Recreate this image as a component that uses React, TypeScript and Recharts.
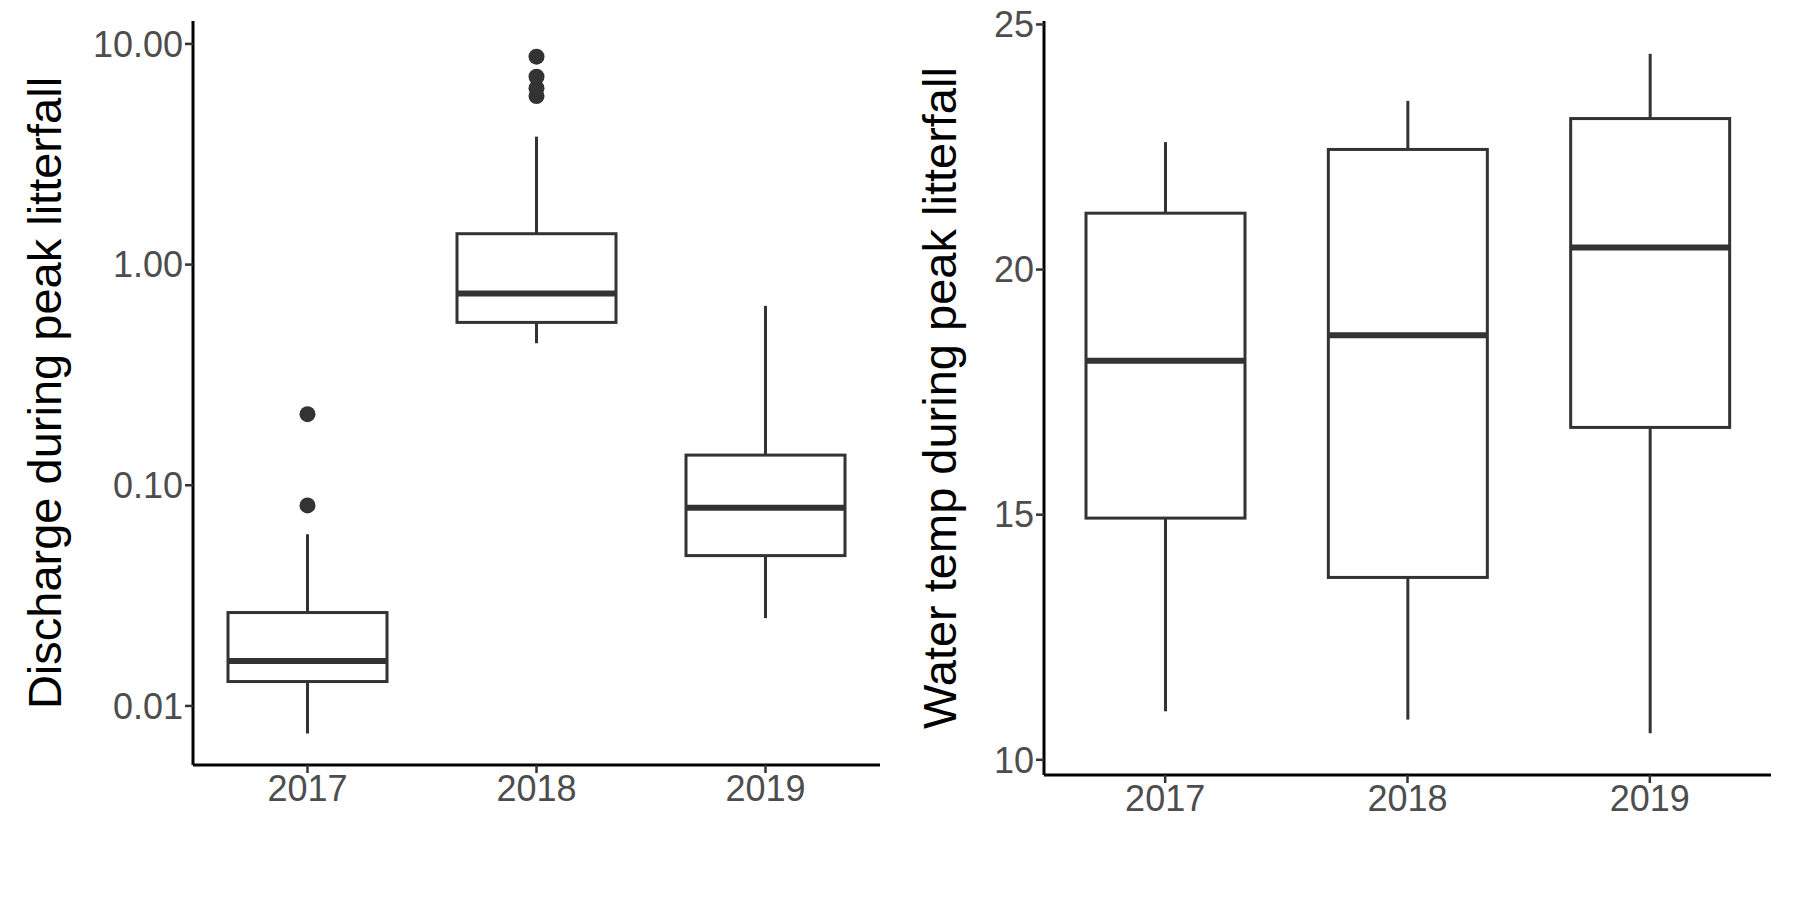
import { ComposedChart, Bar, XAxis, YAxis } from 'recharts';

const years = ['2017', '2018', '2019'];

// discharge (log scale)
const qMin = [0.0075, 0.44, 0.025];
const qQ1 = [0.0129, 0.547, 0.048];
const qMed = [0.016, 0.74, 0.079];
const qQ3 = [0.0265, 1.38, 0.137];
const qMax = [0.06, 3.8, 0.65];
const qOut = [[0.081, 0.21], [5.8, 6.3, 7.1, 8.75], []];

// water temp
const tMin = [10.99, 10.82, 10.54];
const tQ1 = [14.93, 13.72, 16.78];
const tMed = [18.14, 18.66, 20.45];
const tQ3 = [21.15, 22.45, 23.08];
const tMax = [22.6, 23.44, 24.4];
const tOut = [[], [], []];

const build = (mn: number[], q1: number[], md: number[], q3: number[], mx: number[], out: number[][]) =>
  years.map((year, i) => ({ year, min: mn[i], q1: q1[i], med: md[i], q3: q3[i], max: mx[i], out: out[i], range: [mn[i], mx[i]] }));

const qData = build(qMin, qQ1, qMed, qQ3, qMax, qOut);
const tData = build(tMin, tQ1, tMed, tQ3, tMax, tOut);

const INK = '#333333';
const font = 'Liberation Sans, Arial, sans-serif';

const makeBox = (log: boolean) => (props: any) => {
  const { x, y, width, height, payload } = props;
  const top = Math.min(y, y + height);
  const h = Math.abs(height);
  const f = (v: number) => (log ? Math.log10(v) : v);
  const px = (v: number) => top + (h * (f(payload.max) - f(v))) / (f(payload.max) - f(payload.min));
  const cx = x + width / 2;
  const yq1 = px(payload.q1);
  const yq3 = px(payload.q3);
  const ym = px(payload.med);
  return (
    <g>
      <line x1={cx} x2={cx} y1={top} y2={yq3} stroke={INK} strokeWidth={3} />
      <line x1={cx} x2={cx} y1={yq1} y2={top + h} stroke={INK} strokeWidth={3} />
      <rect x={x} y={yq3} width={width} height={yq1 - yq3} fill="#fff" stroke={INK} strokeWidth={3} />
      <line x1={x} x2={x + width} y1={ym} y2={ym} stroke={INK} strokeWidth={6} />
      {payload.out.map((v: number, i: number) => (
        <circle key={i} cx={cx} cy={px(v)} r={8} fill={INK} />
      ))}
    </g>
  );
};

const tickStyle = { fill: '#4d4d4d', fontSize: 36, fontFamily: font };
const labelStyle = { fill: '#000', fontSize: 47, fontFamily: font, textAnchor: 'middle' as const };

export default function App() {
  return (
    <div style={{ position: 'absolute', left: 0, top: 0, width: 1800, height: 900, background: '#fff' }}>
      <div style={{ position: 'absolute', left: 0, top: 0 }}>
        <ComposedChart width={900} height={835} data={qData} margin={{ top: 21, right: 20, left: 93, bottom: 0 }}>
          <XAxis dataKey="year" type="category" height={70} tick={tickStyle} axisLine={{ stroke: '#000', strokeWidth: 3 }} tickLine={{ stroke: '#333', strokeWidth: 2.5 }} tickSize={8} />
          <YAxis
            scale="log"
            type="number"
            domain={[0.0054, 12.7]}
            allowDataOverflow
            ticks={[0.01, 0.1, 1, 10]}
            tickFormatter={(v: number) => v.toFixed(2)}
            width={100}
            tick={tickStyle}
            axisLine={{ stroke: '#000', strokeWidth: 3 }}
            tickLine={{ stroke: '#333', strokeWidth: 2.5 }}
            tickSize={8}
            label={{ value: 'Discharge during peak litterfall', angle: -90, position: 'insideLeft', offset: -49, style: labelStyle }}
          />
          <Bar dataKey="range" barSize={159} isAnimationActive={false} shape={makeBox(true)} />
        </ComposedChart>
      </div>
      <div style={{ position: 'absolute', left: 900, top: 0 }}>
        <ComposedChart width={900} height={845} data={tData} margin={{ top: 21, right: 29, left: 64, bottom: 0 }}>
          <XAxis dataKey="year" type="category" height={70} tick={tickStyle} axisLine={{ stroke: '#000', strokeWidth: 3 }} tickLine={{ stroke: '#333', strokeWidth: 2.5 }} tickSize={8} />
          <YAxis
            type="number"
            domain={[9.69, 25.07]}
            allowDataOverflow
            ticks={[10, 15, 20, 25]}
            width={80}
            tick={tickStyle}
            axisLine={{ stroke: '#000', strokeWidth: 3 }}
            tickLine={{ stroke: '#333', strokeWidth: 2.5 }}
            tickSize={8}
            label={{ value: 'Water temp during peak litterfall', angle: -90, position: 'insideLeft', offset: -25, style: labelStyle }}
          />
          <Bar dataKey="range" barSize={159} isAnimationActive={false} shape={makeBox(false)} />
        </ComposedChart>
      </div>
    </div>
  );
}
